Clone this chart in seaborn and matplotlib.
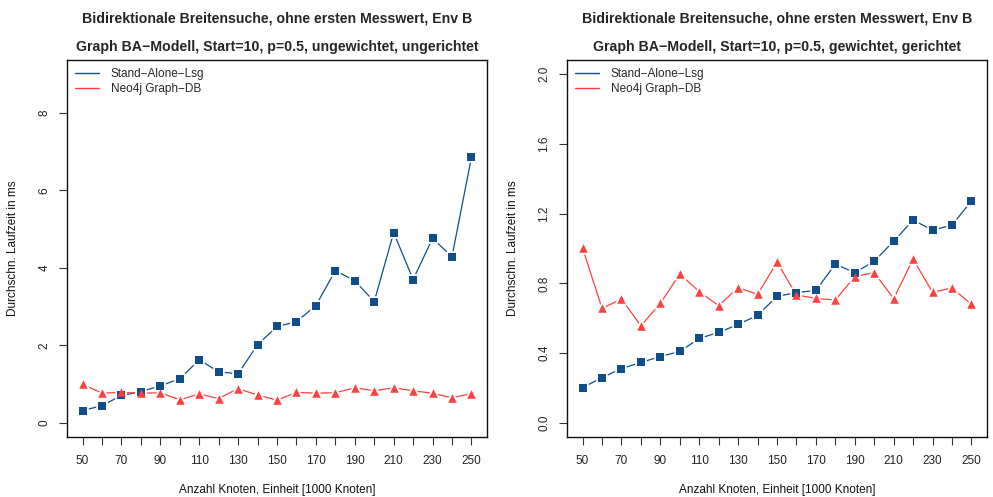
import matplotlib
matplotlib.use("Agg")
import matplotlib.pyplot as plt
import seaborn as sns
import pandas as pd
import numpy as np

nodes = [50, 60, 70, 80, 90, 100, 110, 120, 130, 140, 150, 160, 170, 180, 190, 200, 210, 220, 230, 240, 250]

left_standalone = [0.32, 0.45, 0.71, 0.81, 0.96, 1.14, 1.63, 1.32, 1.27, 2.02, 2.49, 2.61, 3.03, 3.93, 3.67,
                   3.13, 4.91, 3.70, 4.76, 4.29, 6.85]
left_neo4j = [1.00, 0.77, 0.79, 0.77, 0.78, 0.60, 0.75, 0.63, 0.89, 0.72, 0.59, 0.79, 0.77, 0.78, 0.91,
              0.83, 0.91, 0.83, 0.77, 0.65, 0.76]

right_standalone = [0.203, 0.260, 0.312, 0.347, 0.381, 0.410, 0.485, 0.519, 0.565, 0.617, 0.726, 0.747, 0.760,
                    0.910, 0.862, 0.927, 1.042, 1.163, 1.105, 1.134, 1.272]
right_neo4j = [1.004, 0.657, 0.711, 0.557, 0.686, 0.854, 0.753, 0.672, 0.776, 0.737, 0.921, 0.734, 0.714,
               0.705, 0.839, 0.862, 0.713, 0.939, 0.749, 0.774, 0.680]

title_line1 = "Bidirektionale Breitensuche, ohne ersten Messwert, Env B"
left_title2 = "Graph BA\u2212Modell, Start=10, p=0.5, ungewichtet, ungerichtet"
right_title2 = "Graph BA\u2212Modell, Start=10, p=0.5, gewichtet, gerichtet"
series_names = ["Stand\u2212Alone\u2212Lsg", "Neo4j Graph\u2212DB"]
xlabel = "Anzahl Knoten, Einheit [1000 Knoten]"
ylabel = "Durchschn. Laufzeit in ms"

left_yticks = [0, 2, 4, 6, 8]
left_yticklabels = ["0", "2", "4", "6", "8"]
right_yticks = [0.0, 0.4, 0.8, 1.2, 1.6, 2.0]
right_yticklabels = ["0.0", "0.4", "0.8", "1.2", "1.6", "2.0"]

BLUE = "#104E8B"
RED = "#FF4040"

sns.set_theme(style="white")
plt.rcParams["font.family"] = ["Liberation Sans", "DejaVu Sans"]
plt.rcParams["axes.unicode_minus"] = True

fig = plt.figure(figsize=(9.93, 4.97), dpi=100)
ax_l = fig.add_axes([67 / 993, 1 - 437 / 497, 420 / 993, 377 / 497])
ax_r = fig.add_axes([567 / 993, 1 - 437 / 497, 420 / 993, 377 / 497])


def draw(ax, sa, neo, ymax, yticks, yticklabels, title2):
    df = pd.DataFrame({"x": nodes * 2,
                       "y": list(sa) + list(neo),
                       "s": [series_names[0]] * len(nodes) + [series_names[1]] * len(nodes)})
    sns.lineplot(data=df, x="x", y="y", hue="s", palette=[BLUE, RED], ax=ax,
                 linewidth=0.9, legend=False, zorder=2)
    sns.scatterplot(data=df[df.s == series_names[0]], x="x", y="y", color=BLUE, marker="s",
                    s=30, edgecolor="white", linewidth=2.6, ax=ax, zorder=3, legend=False)
    sns.scatterplot(data=df[df.s == series_names[1]], x="x", y="y", color=RED, marker="^",
                    s=38, edgecolor="white", linewidth=2.6, ax=ax, zorder=3, legend=False)
    sns.scatterplot(data=df[df.s == series_names[0]], x="x", y="y", color=BLUE, marker="s",
                    s=30, edgecolor=BLUE, linewidth=0, ax=ax, zorder=4, legend=False)
    sns.scatterplot(data=df[df.s == series_names[1]], x="x", y="y", color=RED, marker="^",
                    s=38, edgecolor=RED, linewidth=0, ax=ax, zorder=4, legend=False)

    span = 200 * 0.04
    ax.set_xlim(50 - span, 250 + span)
    ax.set_ylim(-ymax * 0.04, ymax * 1.04)
    ax.set_xticks(nodes)
    ax.set_xticklabels([str(n) if (n - 50) % 20 == 0 else "" for n in nodes])
    ax.set_yticks(yticks)
    ax.set_yticklabels(yticklabels, rotation=90, va="center")
    ax.tick_params(axis="both", direction="out", length=6, width=0.8, color="#333333",
                   labelsize=8.5, labelcolor="#222222", left=True, bottom=True, pad=6)
    ax.tick_params(axis="x", pad=7)
    for sp in ax.spines.values():
        sp.set_visible(True)
        sp.set_color("#111111")
        sp.set_linewidth(1.0)
    ax.set_xlabel(xlabel, fontsize=8.5, labelpad=12, color="#111111")
    ax.set_ylabel(ylabel, fontsize=8.5, labelpad=14, color="#111111")
    ax.grid(False)

    handles = [plt.Line2D([], [], color=BLUE, lw=1.0), plt.Line2D([], [], color=RED, lw=1.0)]
    ax.legend(handles, series_names, loc="upper left", frameon=False, fontsize=8.5,
              handlelength=2.0, handletextpad=1.0, borderaxespad=0.3, labelspacing=0.25,
              bbox_to_anchor=(0.0, 1.0))

    ax.text(0.5, 1 + 41 / 377, title_line1, transform=ax.transAxes, ha="center", va="center",
            fontsize=10.2, fontweight="bold")
    ax.text(0.5, 1 + 13 / 377, title2, transform=ax.transAxes, ha="center", va="center",
            fontsize=10.2, fontweight="bold")


draw(ax_l, left_standalone, left_neo4j, 9, left_yticks, left_yticklabels, left_title2)
draw(ax_r, right_standalone, right_neo4j, 2, right_yticks, right_yticklabels, right_title2)

fig.savefig("out.png", dpi=100, facecolor="white")
